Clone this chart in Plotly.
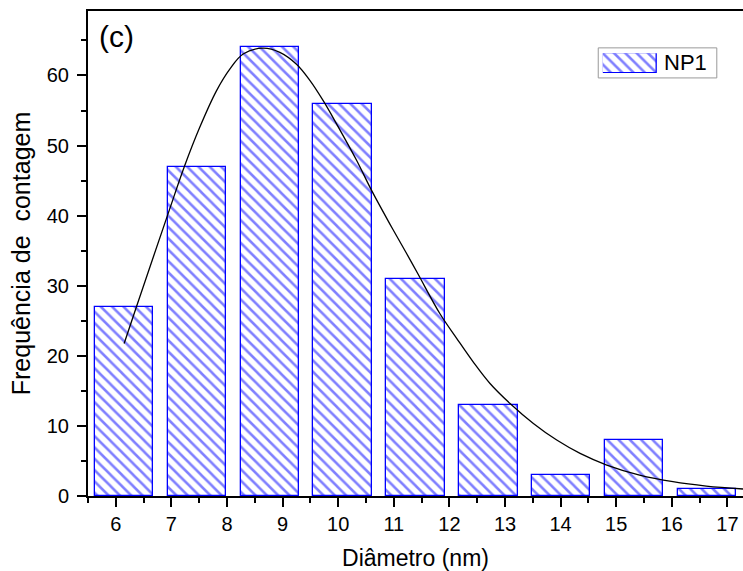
import plotly.graph_objects as go

# Histogram bins (bar centres in nm) and counts
bin_centres = [6.15, 7.46, 8.77, 10.08, 11.39, 12.70, 14.01, 15.32, 16.63]
counts = [27, 47, 64, 56, 31, 13, 3, 8, 1]
bar_width = 1.05
series_name = "NP1"

# Fitted (log-normal) curve
fit_x = [6.15, 6.37, 6.95, 7.24, 7.51, 7.81, 8.05, 8.29, 8.65, 8.95, 9.25, 9.49,
         9.73, 9.97, 10.33, 10.60, 10.93, 11.23, 11.44, 11.83, 12.13, 12.43, 12.73,
         13.09, 13.51, 13.93, 14.35, 14.83, 15.42, 16.02, 16.62, 17.28]
fit_y = [21.75, 26.97, 40.5, 47.15, 52.6, 57.8, 60.9, 63.06, 63.9, 63.3, 61.6, 59.3,
         56.4, 53.1, 47.9, 43.6, 38.8, 34.6, 31.6, 26.0, 22.5, 19.1, 16.05,
         13.2, 10.35, 7.98, 6.08, 4.42, 2.99, 2.04, 1.42, 1.0]

x_ticks = list(range(6, 18))
y_ticks = [0, 10, 20, 30, 40, 50, 60]

FONT = "Liberation Sans, Arial, sans-serif"
BLUE = "#0000FF"
PATTERN = dict(shape="\\", fgcolor=BLUE, bgcolor="white", size=8, solidity=0.32)

fig = go.Figure()
fig.add_trace(go.Bar(
    x=bin_centres, y=counts, width=bar_width, name=series_name, showlegend=False,
    marker=dict(color="white", line=dict(color=BLUE, width=1.3), pattern=PATTERN),
))
fig.add_trace(go.Scatter(
    x=fit_x, y=fit_y, mode="lines", line=dict(color="black", width=1.3, shape="spline"),
    showlegend=False, hoverinfo="skip",
))
# legend swatch (drawn in its own small axes so it can have the reference's size)
fig.add_trace(go.Bar(
    x=[0.5], y=[1], width=1, xaxis="x2", yaxis="y2", showlegend=False, hoverinfo="skip",
    marker=dict(color="white", line=dict(color=BLUE, width=1.3), pattern=PATTERN),
))

fig.update_layout(
    width=743, height=571,
    margin=dict(l=88, r=0, t=11, b=75, autoexpand=False),
    plot_bgcolor="white", paper_bgcolor="white",
    font=dict(family=FONT, color="black"),
    bargap=0,
    xaxis=dict(
        range=[5.5, 17.28], tickmode="array", tickvals=x_ticks,
        ticks="outside", ticklen=9, tickwidth=2, tickcolor="black",
        showline=True, linecolor="black", linewidth=2, mirror=True,
        showgrid=False, zeroline=False,
        tickfont=dict(size=20, family=FONT),
        minor=dict(dtick=0.5, tick0=5.5, ticks="outside", ticklen=5, tickwidth=2, tickcolor="black"),
        title=dict(text="Diâmetro (nm)", font=dict(size=23, family=FONT), standoff=18),
        automargin=False,
    ),
    yaxis=dict(
        range=[0, 69.2], tickmode="array", tickvals=y_ticks,
        ticks="outside", ticklen=9, tickwidth=2, tickcolor="black",
        showline=True, linecolor="black", linewidth=2,
        showgrid=False, zeroline=False,
        tickfont=dict(size=20, family=FONT), ticklabelstandoff=4,
        minor=dict(dtick=5, tick0=0, ticks="outside", ticklen=5, tickwidth=2, tickcolor="black"),
        title=dict(text="Frequência de  contagem", font=dict(size=25, family=FONT), standoff=9),
        automargin=False,
    ),
    xaxis2=dict(domain=[0.786, 0.869], range=[0, 1], anchor="y2", visible=False, fixedrange=True),
    yaxis2=dict(domain=[0.872, 0.913], range=[0, 1], anchor="x2", visible=False, fixedrange=True),
    shapes=[dict(type="rect", xref="paper", yref="paper", x0=0.779, x1=0.960, y0=0.862, y1=0.924,
                 line=dict(color="#999999", width=1), fillcolor="white", layer="below")],
    annotations=[
        dict(text="(c)", x=0.013, y=0.985, xref="paper", yref="paper",
             xanchor="left", yanchor="top", showarrow=False,
             font=dict(size=30, family=FONT)),
        dict(text=series_name, x=0.876, y=0.893, xref="paper", yref="paper",
             xanchor="left", yanchor="middle", showarrow=False,
             font=dict(size=22, family=FONT)),
    ],
)

fig.write_html("out.html")
